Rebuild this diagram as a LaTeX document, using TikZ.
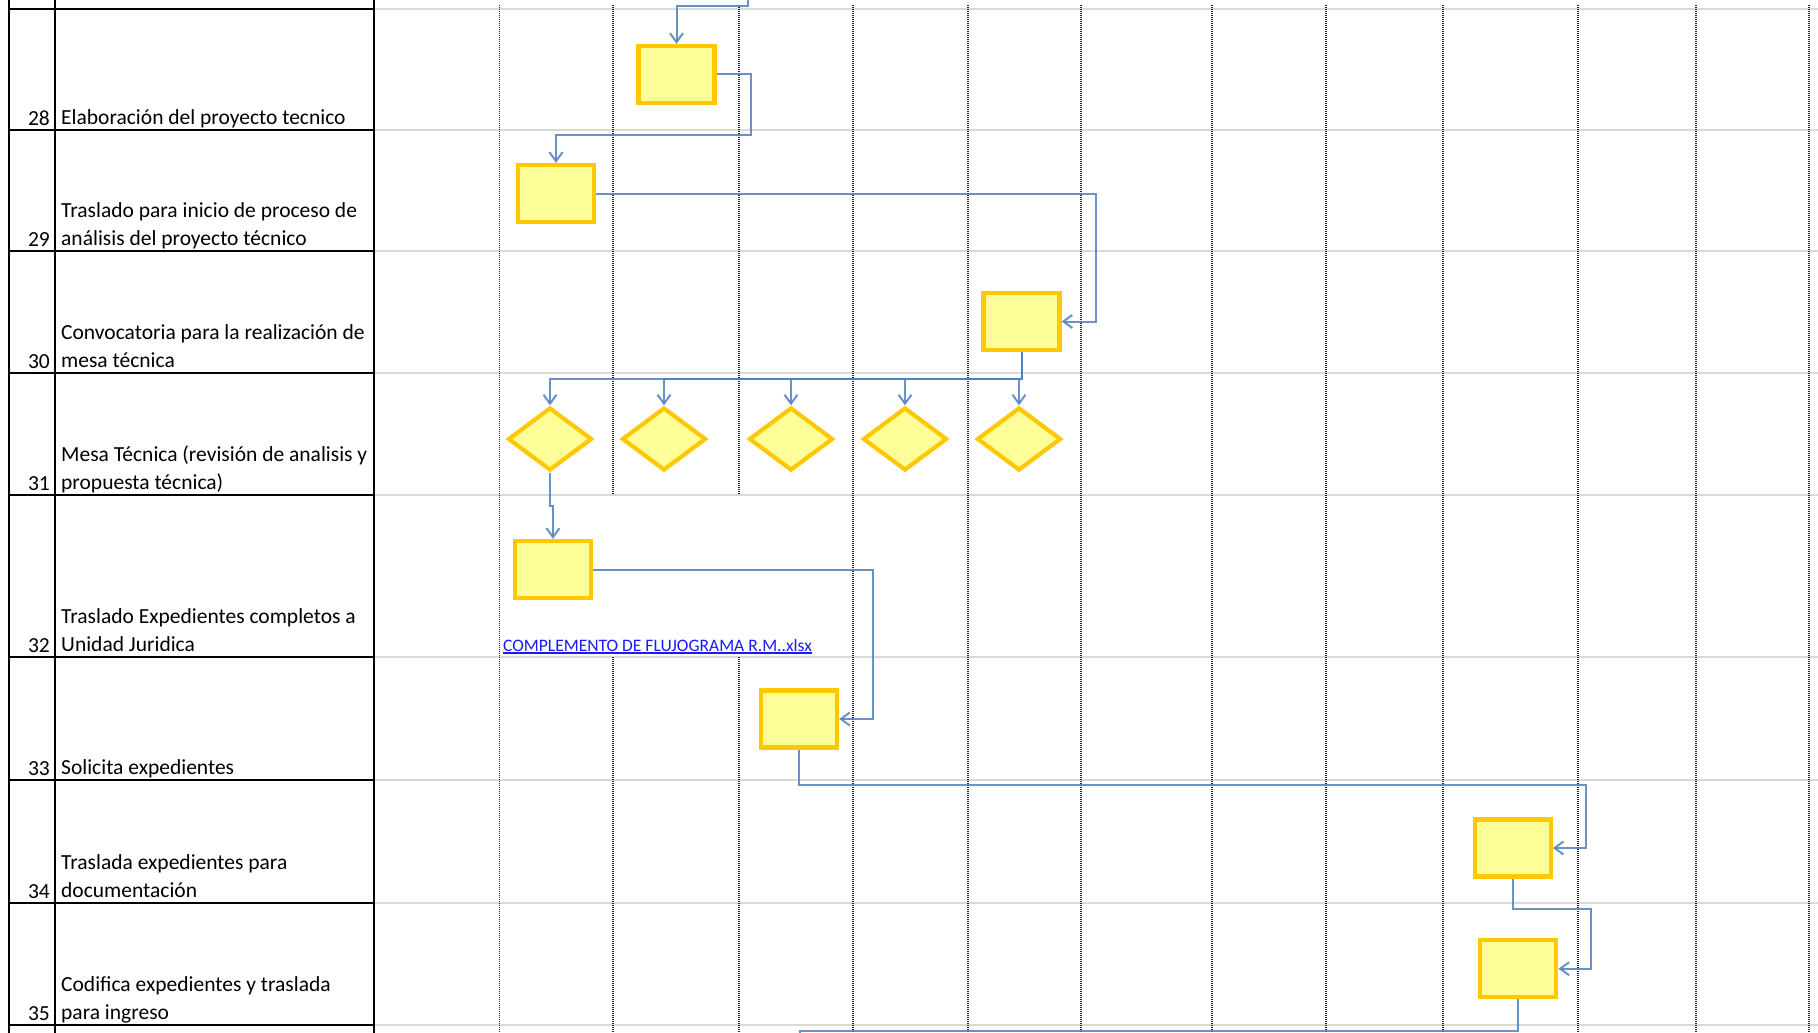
\documentclass[tikz,border=0pt]{standalone}
\usepackage{fontspec}
\setmainfont{Carlito}
\usepackage{tikz}
\usetikzlibrary{calc, arrows.meta, shapes.geometric}
\usepackage{xcolor}
\definecolor{boxFill}{RGB}{255, 255, 153}
\definecolor{boxEdge}{RGB}{255, 200, 0}
\definecolor{flowBlue}{RGB}{79, 129, 189}
\definecolor{gridGray}{RGB}{217, 217, 217}
\definecolor{linkBlue}{RGB}{25, 25, 255}
\newcommand{\tabfont}{\fontsize{21.5}{28.5}\selectfont}

\tikzset{
  task/.style={draw=boxEdge, fill=boxFill, line width=4.2pt, minimum width=76pt, minimum height=57pt, inner sep=0pt},
  check/.style={diamond, draw=boxEdge, fill=boxFill, line width=4.2pt, minimum width=84pt, minimum height=63pt, inner sep=0pt},
  flow/.style={draw=flowBlue, draw opacity=0.85, line width=2pt, -{Straight Barb[length=9pt,width=13pt]}},
  num/.style={anchor=base east, inner sep=0pt, font=\tabfont},
  desc/.style={anchor=south west, inner sep=0pt, text depth=0pt, align=left, font=\tabfont},
  tabline/.style={black, line width=2pt},
  rowline/.style={gridGray, line width=2pt},
  colline/.style={black!85, line width=1.5pt, dash pattern=on 1pt off 1pt}
}

\begin{document}
\begin{tikzpicture}[x=1pt, y=-1pt]
  \useasboundingbox (0,0) rectangle (1818,1033);
  \fill[white] (0,0) rectangle (1818,1033);
  % sheet grid
  \foreach \y in {9,130,251,373,495,657,780,903,1025}
    \draw[rowline] (374,\y) -- (1818,\y);
  \foreach \x in {499.7,853,968,1081,1212,1326,1443,1578,1696,1809}
    \draw[colline] (\x,5) -- (\x,1033);
  % merged cell of row 32
  \foreach \x in {613,739} {
    \draw[colline] (\x,5) -- (\x,495);
    \draw[colline] (\x,657) -- (\x,1033);
  }
  % activity table
  \foreach \y in {9,130,251,373,495,657,780,903,1025}
    \draw[tabline] (9,\y) -- (374,\y);
  \foreach \x in {9,55,374}
    \draw[tabline] (\x,0) -- (\x,1033);

  \node[num] (n28) at (50,125) {28};
  \node[desc] (t28) at (61,125) {Elaboración del proyecto tecnico};
  \node[num] (n29) at (50,246) {29};
  \node[desc] (t29) at (61,246) {Traslado para inicio de proceso de\\análisis del proyecto técnico};
  \node[num] (n30) at (50,368) {30};
  \node[desc] (t30) at (61,368) {Convocatoria para la realización de\\mesa técnica};
  \node[num] (n31) at (50,490) {31};
  \node[desc] (t31) at (61,490) {Mesa Técnica (revisión de analisis y\\propuesta técnica)};
  \node[num] (n32) at (50,652) {32};
  \node[desc] (t32) at (61,652) {Traslado Expedientes completos a\\Unidad Juridica};
  \node[num] (n33) at (50,775) {33};
  \node[desc] (t33) at (61,775) {Solicita expedientes};
  \node[num] (n34) at (50,898) {34};
  \node[desc] (t34) at (61,898) {Traslada expedientes para\\documentación};
  \node[num] (n35) at (50,1020) {35};
  \node[desc] (t35) at (61,1020) {Codifica expedientes y traslada\\para ingreso};

  % shapes
  \node[task] (b28) at (676.5,74.5) {};
  \node[task] (b29) at (556,193.5) {};
  \node[task] (b30) at (1021.5,321.5) {};
  \foreach \i/\x in {1/550,2/664,3/791,4/905,5/1019}
    \node[check] (d\i) at (\x,439) {};
  \node[task] (b32) at (553,569.5) {};
  \node[task] (b33) at (799,719) {};
  \node[task] (b34) at (1512.7,848) {};
  \node[task] (b35) at (1518.3,968.7) {};

  \node[font=\fontsize{17.5}{21}\selectfont, text=linkBlue, anchor=base west, inner sep=0pt] (lnk) at (503,651) {COMPLEMENTO DE FLUJOGRAMA R.M..xlsx};
  \draw[linkBlue, line width=1.2pt] ([yshift=-2pt]lnk.base west) -- ([yshift=-2pt]lnk.base east);

  % connectors
  \coordinate (c0) at (748,0);
  \coordinate (c1) at (748,6);
  \coordinate (cEnd) at (800,1033);
  \draw[flow] (c0) -- (c1) -| (b28.north);
  \draw[flow] (b28.east) -- ++(34,0) -- ++(0,60) -| (b29.north);
  \draw[flow] (b29.east) -| ([xshift=34pt]b30.east) -- (b30.east);
  \foreach \i in {1,...,5}
    \draw[flow] (b30.south) -- ++(0,27) -| (d\i.north);
  \draw[flow] (d1.south) -- ++(0,33) -| (b32.north);
  \draw[flow] (b32.east) -| ([xshift=34pt]b33.east) -- (b33.east);
  \draw[flow] (b33.south) -- ++(0,35) -| ([xshift=33pt]b34.east) -- (b34.east);
  \draw[flow] (b34.south) -- ++(0,30) -| ([xshift=33pt]b35.east) -- (b35.east);
  \draw[flow, -] (b35.south) -- ++(0,32) -| (cEnd);
\end{tikzpicture}
\end{document}
